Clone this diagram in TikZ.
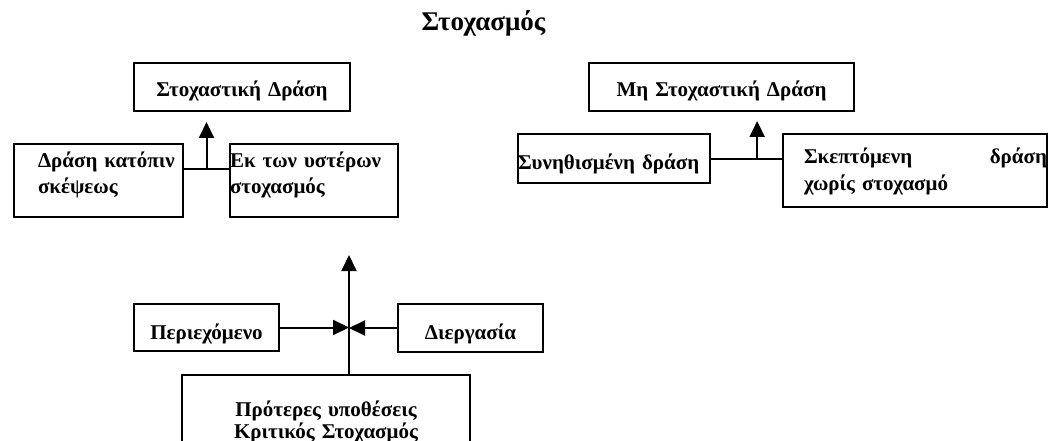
\documentclass[tikz,border=0pt]{standalone}
\usepackage{fontspec}
\setmainfont{Liberation Serif}
\usetikzlibrary{arrows.meta,calc}
\tikzset{
	box/.style={draw, line width=2pt, inner sep=0pt, anchor=north west, font=\fontsize{21}{26}\selectfont\bfseries},
	pad/.style={execute at begin node={\leftskip=#1\relax}},
	con/.style={line width=2pt},
	arr/.style={line width=2pt, -{Triangle[length=16pt,width=15pt]}}
}
\begin{document}
\begin{tikzpicture}[x=1pt,y=-1pt]
			%%%%% START %%%%%
			\useasboundingbox (0,0) rectangle (1049,441);
			
			\node[font=\fontsize{27}{32}\selectfont\bfseries, anchor=base] (title) at (483.5,31) {Στοχασμός};
			
			% left group
			\node[box, text width=216pt, align=center, text height=34pt, text depth=14pt] (stx) at (133,62) {Στοχαστική Δράση};
			\node[box, pad=24pt, text width=169pt, align=left, text height=23pt, text depth=50pt] (dk) at (13,143) {Δράση κατόπιν\\σκέψεως};
			\node[box, text width=168pt, align=left, text height=23pt, text depth=50pt] (ek) at (229,143) {Εκ των υστέρων\\στοχασμός};
			
			\draw[con] ([yshift=-2pt]dk.base east) -- ([yshift=-2pt]ek.base west) coordinate[midway] (j1);
			\draw[arr, shorten >=10pt] (j1) -- (j1 |- stx.south);
			
			% right group
			\node[box, text width=265pt, align=center, text height=34pt, text depth=14pt] (mstx) at (588,62) {Μη Στοχαστική Δράση};
			\node[box, text width=192pt, align=left, text height=35pt, text depth=14pt] (sd) at (517,133) {Συνηθισμένη δράση};
			\node[box, pad=21pt, text width=264pt, align=left, text height=30pt, text depth=43pt] (sk) at (782,133) {Σκεπτόμενη\hfill δράση\\χωρίς στοχασμό};
			
			\draw[con] (sd.east) -- (sd.east -| sk.west) coordinate[pos=0.65] (j2);
			\draw[arr, shorten >=9pt] (j2) -- (j2 |- mstx.south);
			
			% bottom group
			\node[box, text width=145pt, align=center, text height=35pt, text depth=12pt] (pe) at (133,303) {Περιεχόμενο};
			\node[box, text width=145pt, align=center, text height=35pt, text depth=13pt] (di) at (397,303) {Διεργασία};
			\node[box, text width=288pt, align=center, text height=41pt, text depth=90pt] (pr) at (181,374) {Πρότερες υποθέσεις\\[-4pt]Κριτικός Στοχασμός};
			
			\coordinate (j3) at (349,327);
			\coordinate (top) at (349,255);
			\draw[arr] (pe.east) -- (pe.east -| j3);
			\draw[arr] (di.west) -- (di.west -| j3);
			\draw[arr] (pr.north -| j3) -- (top);
			
			%%%%% END %%%%%
\end{tikzpicture}
\end{document}
